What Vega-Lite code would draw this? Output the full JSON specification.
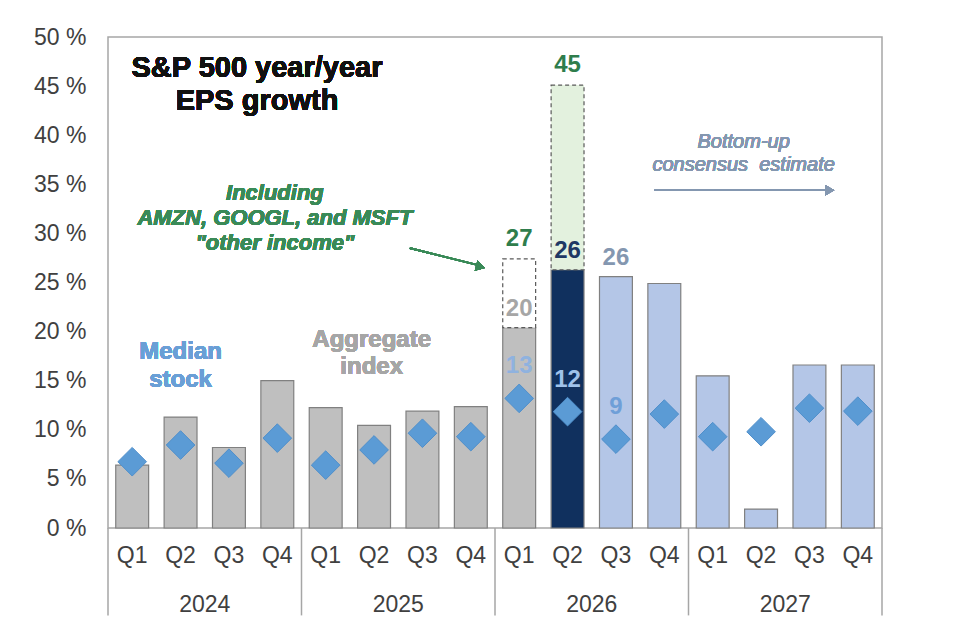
{
  "$schema": "https://vega.github.io/schema/vega-lite/v6.json",
  "width": 774,
  "height": 491,
  "autosize": {"type": "none"},
  "padding": {"left": 108, "top": 37, "right": 78, "bottom": 116},
  "background": "white",
  "config": {
    "view": {"stroke": "#a6a6a6", "strokeWidth": 1.5},
    "font": "Liberation Sans",
    "text": {"font": "Liberation Sans", "strokeWidth": 0}
  },
  "data": {
    "values": [
      {"key": "2024 Q1", "year": "2024", "quarter": "Q1", "phase": "reported", "aggregate": 6.4, "median": 6.75, "incl": null},
      {"key": "2024 Q2", "year": "2024", "quarter": "Q2", "phase": "reported", "aggregate": 11.3, "median": 8.45, "incl": null},
      {"key": "2024 Q3", "year": "2024", "quarter": "Q3", "phase": "reported", "aggregate": 8.2, "median": 6.6, "incl": null},
      {"key": "2024 Q4", "year": "2024", "quarter": "Q4", "phase": "reported", "aggregate": 15.0, "median": 9.15, "incl": null},
      {"key": "2025 Q1", "year": "2025", "quarter": "Q1", "phase": "reported", "aggregate": 12.25, "median": 6.4, "incl": null},
      {"key": "2025 Q2", "year": "2025", "quarter": "Q2", "phase": "reported", "aggregate": 10.45, "median": 7.95, "incl": null},
      {"key": "2025 Q3", "year": "2025", "quarter": "Q3", "phase": "reported", "aggregate": 11.9, "median": 9.65, "incl": null},
      {"key": "2025 Q4", "year": "2025", "quarter": "Q4", "phase": "reported", "aggregate": 12.35, "median": 9.3, "incl": null},
      {"key": "2026 Q1", "year": "2026", "quarter": "Q1", "phase": "reported", "aggregate": 20.4, "median": 13.2, "incl": 27.4},
      {"key": "2026 Q2", "year": "2026", "quarter": "Q2", "phase": "current", "aggregate": 26.3, "median": 11.85, "incl": 45.1},
      {"key": "2026 Q3", "year": "2026", "quarter": "Q3", "phase": "estimate", "aggregate": 25.6, "median": 9.05, "incl": null},
      {"key": "2026 Q4", "year": "2026", "quarter": "Q4", "phase": "estimate", "aggregate": 24.9, "median": 11.6, "incl": null},
      {"key": "2027 Q1", "year": "2027", "quarter": "Q1", "phase": "estimate", "aggregate": 15.5, "median": 9.3, "incl": null},
      {"key": "2027 Q2", "year": "2027", "quarter": "Q2", "phase": "estimate", "aggregate": 1.93, "median": 9.8, "incl": null},
      {"key": "2027 Q3", "year": "2027", "quarter": "Q3", "phase": "estimate", "aggregate": 16.6, "median": 12.2, "incl": null},
      {"key": "2027 Q4", "year": "2027", "quarter": "Q4", "phase": "estimate", "aggregate": 16.6, "median": 11.9, "incl": null}
    ]
  },
  "encoding": {
    "x": {
      "field": "key",
      "type": "nominal",
      "sort": null,
      "scale": {"paddingInner": 0, "paddingOuter": 0},
      "axis": {
        "title": null,
        "labelExpr": "split(datum.label, ' ')[1]",
        "labelAngle": 0,
        "ticks": false,
        "domain": false,
        "labelFontSize": 23,
        "labelColor": "#404040",
        "labelPadding": 16
      }
    }
  },
  "layer": [
    {
      "mark": {"type": "bar", "width": {"band": 0.68}, "stroke": "#808080", "strokeWidth": 1.2},
      "encoding": {
        "y": {
          "field": "aggregate",
          "type": "quantitative",
          "scale": {"domain": [0, 50], "nice": false, "zero": true},
          "axis": {
            "title": null,
            "values": [0, 5, 10, 15, 20, 25, 30, 35, 40, 45, 50],
            "labelExpr": "datum.value + ' %'",
            "ticks": false,
            "domain": false,
            "grid": false,
            "labelFontSize": 23,
            "labelColor": "#404040",
            "labelPadding": 22
          }
        },
        "color": {
          "field": "phase",
          "type": "nominal",
          "scale": {"domain": ["reported", "current", "estimate"], "range": ["#bfbfbf", "#10305e", "#b4c6e7"]},
          "legend": null
        }
      }
    },
    {
      "transform": [{"filter": "datum.incl != null"}],
      "mark": {"type": "bar", "width": {"band": 0.68}, "stroke": "#595959", "strokeWidth": 1.2, "strokeDash": [4, 3]},
      "encoding": {
        "y": {"field": "aggregate", "type": "quantitative"},
        "y2": {"field": "incl"},
        "fill": {"condition": {"test": "datum.phase == 'current'", "value": "#e3f1de"}, "value": "#ffffff"}
      }
    },
    {
      "mark": {"type": "point", "shape": "diamond", "size": 820, "filled": true, "color": "#5b9bd5", "stroke": "#4f8fcb", "strokeWidth": 1, "opacity": 1},
      "encoding": {
        "y": {"field": "median", "type": "quantitative"}
      }
    },
    {
      "transform": [{"filter": "datum.incl != null"}],
      "mark": {"type": "text", "fontSize": 24, "fontWeight": "bold", "color": "#2f7d4c", "baseline": "middle", "dy": -20},
      "encoding": {
        "y": {"field": "incl", "type": "quantitative"},
        "text": {"field": "incl", "type": "quantitative", "format": ".0f"}
      }
    },
    {
      "transform": [{"filter": "datum.year == '2026' && datum.quarter != 'Q4'"}],
      "mark": {"type": "text", "fontSize": 24, "fontWeight": "bold", "baseline": "middle", "dy": -19},
      "encoding": {
        "y": {"field": "aggregate", "type": "quantitative"},
        "text": {"field": "aggregate", "type": "quantitative", "format": ".0f"},
        "color": {"condition": [{"test": "datum.phase == 'current'", "value": "#1f3864"}, {"test": "datum.phase == 'estimate'", "value": "#8497b0"}], "value": "#a6a6a6"}
      }
    },
    {
      "transform": [{"filter": "datum.year == '2026' && datum.quarter != 'Q4'"}],
      "mark": {"type": "text", "fontSize": 24, "fontWeight": "bold", "baseline": "middle", "dy": -32},
      "encoding": {
        "y": {"field": "median", "type": "quantitative"},
        "text": {"field": "median", "type": "quantitative", "format": ".0f"},
        "color": {"condition": [{"test": "datum.phase == 'current'", "value": "#9fc2ea"}, {"test": "datum.phase == 'estimate'", "value": "#6f9fd8"}], "value": "#8fb2df"}
      }
    },
    {
      "transform": [{"filter": "datum.quarter == 'Q2'"}],
      "mark": {"type": "text", "fontSize": 23, "color": "#404040", "baseline": "middle"},
      "encoding": {
        "x": {"field": "key", "type": "nominal", "sort": null, "bandPosition": 1},
        "y": {"datum": -7.8},
        "text": {"field": "year"}
      }
    },
    {
      "transform": [{"filter": "datum.quarter == 'Q4'"}],
      "mark": {"type": "rule", "color": "#a6a6a6", "strokeWidth": 1.5},
      "encoding": {
        "x": {"field": "key", "type": "nominal", "sort": null, "bandPosition": 1},
        "y": {"datum": 0},
        "y2": {"datum": -8.9}
      }
    },
    {
      "transform": [{"filter": "datum.key == '2024 Q1'"}],
      "mark": {"type": "rule", "color": "#a6a6a6", "strokeWidth": 1.5},
      "encoding": {
        "x": {"field": "key", "type": "nominal", "sort": null, "bandPosition": 0},
        "y": {"datum": 0},
        "y2": {"datum": -8.9}
      }
    },
    {
      "mark": {"type": "text", "text": ["S&P 500 year/year", "EPS growth"], "fontSize": 29, "fontWeight": "bold", "color": "#111111", "baseline": "middle", "lineHeight": 33},
      "encoding": {
        "x": {"datum": "2024 Q3", "bandPosition": 1.08},
        "y": {"datum": 46.8}
      }
    },
    {
      "mark": {"type": "text", "text": ["Median", "stock"], "fontSize": 24, "fontWeight": "bold", "color": "#6a9fd6", "baseline": "middle", "lineHeight": 28},
      "encoding": {
        "x": {"datum": "2024 Q2"},
        "y": {"datum": 17.9}
      }
    },
    {
      "mark": {"type": "text", "text": ["Aggregate", "index"], "fontSize": 24, "fontWeight": "bold", "color": "#a6a6a6", "baseline": "middle", "lineHeight": 27},
      "encoding": {
        "x": {"datum": "2025 Q2", "bandPosition": 0.45},
        "y": {"datum": 19.1}
      }
    },
    {
      "mark": {"type": "text", "text": ["Including", "AMZN, GOOGL, and MSFT", "\"other income\""], "fontSize": 22, "fontWeight": "bold", "fontStyle": "italic", "color": "#3a8a58", "baseline": "middle", "lineHeight": 25},
      "encoding": {
        "x": {"datum": "2024 Q4", "bandPosition": 0.45},
        "y": {"datum": 34.1}
      }
    },
    {
      "mark": {"type": "rule", "color": "#3a8a58", "strokeWidth": 1.6},
      "encoding": {
        "x": {"datum": "2025 Q3", "bandPosition": 0.24},
        "x2": {"datum": "2025 Q4", "bandPosition": 0.62},
        "y": {"datum": 28.5},
        "y2": {"datum": 26.8}
      }
    },
    {
      "mark": {"type": "point", "shape": "triangle-right", "size": 110, "filled": true, "color": "#3a8a58", "angle": 15, "opacity": 1},
      "encoding": {
        "x": {"datum": "2025 Q4", "bandPosition": 0.7},
        "y": {"datum": 26.6}
      }
    },
    {
      "mark": {"type": "text", "text": ["Bottom-up", "consensus\u00a0\u00a0estimate"], "fontSize": 20, "fontStyle": "italic", "color": "#8497b0", "baseline": "middle", "lineHeight": 23},
      "encoding": {
        "x": {"datum": "2027 Q2", "bandPosition": 0.14},
        "y": {"datum": 39.3}
      }
    },
    {
      "mark": {"type": "rule", "color": "#8497b0", "strokeWidth": 1.8},
      "encoding": {
        "x": {"datum": "2026 Q4", "bandPosition": 0.3},
        "x2": {"datum": "2027 Q3", "bandPosition": 0.85},
        "y": {"datum": 34.4}
      }
    },
    {
      "mark": {"type": "point", "shape": "triangle-right", "size": 110, "filled": true, "color": "#8497b0", "opacity": 1},
      "encoding": {
        "x": {"datum": "2027 Q3", "bandPosition": 0.92},
        "y": {"datum": 34.4}
      }
    }
  ]
}
